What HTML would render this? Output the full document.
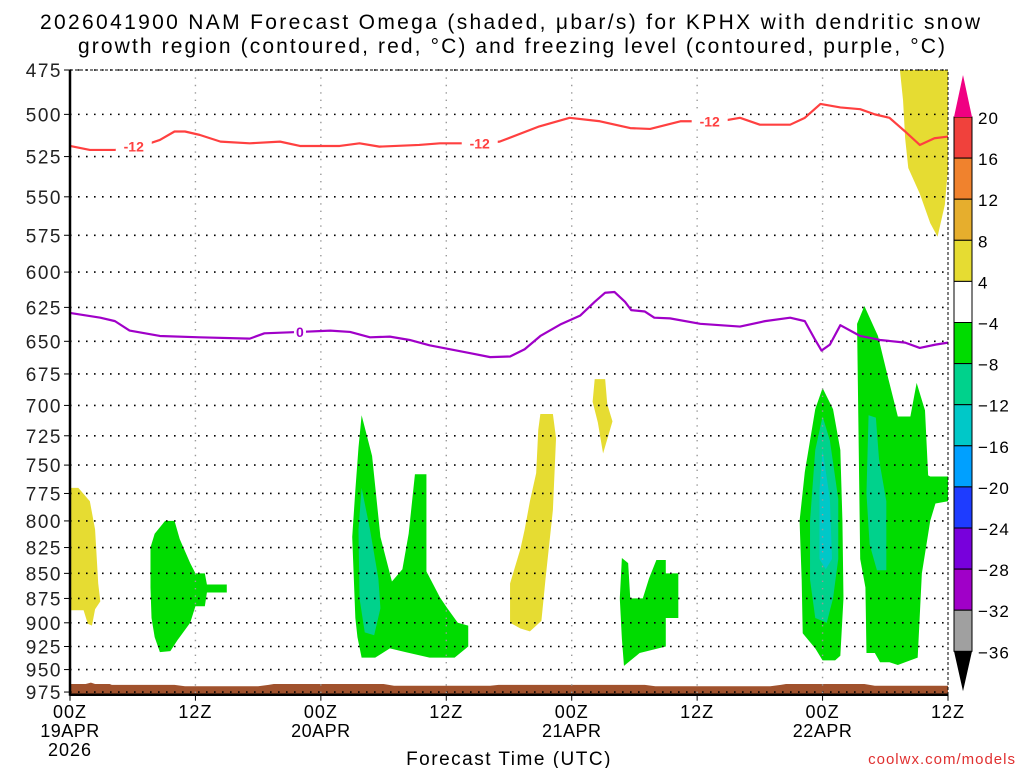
<!DOCTYPE html>
<html><head><meta charset="utf-8"><style>
html,body{margin:0;padding:0;background:#fff;}
svg{display:block;font-family:"Liberation Sans",sans-serif;}
</style></head><body>
<svg id="chart" width="1024" height="768" viewBox="0 0 1024 768" xmlns="http://www.w3.org/2000/svg">
<text x="40" y="29" font-size="21" textLength="940" lengthAdjust="spacing">2026041900 NAM Forecast Omega (shaded, μbar/s) for KPHX with dendritic snow</text>
<text x="78" y="53" font-size="21" textLength="867" lengthAdjust="spacing">growth region (contoured, red, °C) and freezing level (contoured, purple, °C)</text>
<g id="plot"></g>
<text x="509" y="765" font-size="19" text-anchor="middle" letter-spacing="1.5">Forecast Time (UTC)</text>
<text x="1016" y="764" font-size="15" fill="#e03030" text-anchor="end" letter-spacing="1">coolwx.com/models</text>
</svg>
<script>
const pLevels=[475,500,525,550,575,600,625,650,675,700,725,750,775,800,825,850,875,900,925,950,975];
const timeTicks=[0,12,24,36,48,60,72,84];
const timeLabels=["00Z","12Z","00Z","12Z","00Z","12Z","00Z","12Z"];
const dateLabels=["19APR","","20APR","","21APR","","22APR",""];
const cbLevels=[20,16,12,8,4,-4,-8,-12,-16,-20,-24,-28,-32,-36];
const cbColors=["#f0413c","#f0822d","#e6ae2d","#e6dc32","#ffffff","#00dc00","#00d28c","#00c8c8","#00a0ff","#1e3cff","#7800dc","#a000c8","#a0a0a0"];
// -12C isotherm [hour, hPa]
const redHours=[0,1.9,4.3,6.7,8.6,10,11,12.4,14.4,17.2,20.1,22,25.8,27.7,29.6,33.4,35.4,39.2,41.1,44.9,47.8,50.7,53.6,55.5,58.4,60.3,62.2,64.1,66,68.9,70.3,71.8,73.7,75.6,77,78.4,79.9,81.3,82.7,84];
const redP=[518.6,521,521,519,515,510,510,512,516,517,516,518.6,518.6,517,519,518,517,517,516,507,502,504,508,508.5,504,504,504,502,506,506,502,494,496,497,500,502,510,518,514,513];
// 0C freezing level
const purHours=[0,2.9,4.3,5.7,8.6,12.4,17.2,18.6,22,24.9,26.8,28.7,30.6,32.5,34.4,38.3,40.2,42.1,43.5,45,46.9,48.8,50.2,51.2,52.1,53.1,53.7,55,55.9,57.4,60.3,64.1,66.5,68.9,70.3,71.3,71.9,72.7,73.7,75.6,77.5,79.9,81.3,82.8,84];
const purP=[629,632.5,635,642,646,647,648,644,643,642,643,647,646.5,649,653,659,662,661.5,656,646,637.5,631,621,614.5,614,621,627,628,632.5,633,637,639,635,632.5,635,649,657,652.5,638,646,649,651,655,652.5,651];
// surface (ground) top pressure by hour
const gndHours=[0,1.5,2,2.4,3.8,4,10,11,18,19,19.5,30,31,40.2,41,55,56,67,68,68.5,76,77,84];
const gndP=[966,966,964.5,966,966,967,967,968.5,968.5,967,966,966,968,968,967,967,968.5,968.5,967,966,966,968,968];
// omega shaded regions: [hour,hPa] vertices, with value class
const omegaLevel=["yellow","green","yellow","green","teal","yellow","yellow","green","green","teal","cyan","green","teal"];
const omegaShapes=[
 [[79.4,475],[84,475],[84,532],[83.7,555],[83,576],[82.3,567],[81.3,548],[80.2,532],[79.9,514],[79.7,492]],
 [[7.7,825],[8.1,812],[9.1,800],[10,800],[10.5,817],[11.5,840],[12,850],[12.9,850],[13.1,861],[15,861],[15,869],[13.1,869],[12.9,883],[12,883],[11.5,900],[10.3,918],[9.6,930],[8.6,931],[8.1,915],[7.8,895],[7.7,864]],
 [[0,770],[0.8,770],[1.9,782],[2.4,808],[2.7,860],[2.9,878],[2.4,886],[2.1,903],[1.7,901],[1.3,887],[0,887]],
 [[27.9,708],[28.9,742],[29.7,815],[30.8,858],[31.8,846],[32.4,812],[33,758],[34.1,758],[34.1,848],[35.4,874],[36.1,885],[37.1,900],[38.1,903],[38.1,925],[36.8,937],[34.4,937],[32.1,931],[30.6,927],[29.2,937],[27.9,937],[27.5,915],[27.3,895],[27,815],[27.3,772],[27.6,735]],
 [[27.9,770],[28.7,808],[29.5,855],[29.7,885],[29.1,913],[28.2,910],[27.7,875],[27.6,808]],
 [[45,707],[46.2,707],[46.5,727],[46.2,790],[45.5,855],[45.1,898],[44,909],[43.1,906],[42.1,900],[42.1,860],[43.1,826],[43.5,808],[44,782],[44.6,757],[44.8,720]],
 [[50.2,679],[51.2,679],[51.4,699],[51.9,713],[51,740],[50.5,714],[50,697]],
 [[52.8,835],[53.4,840],[53.6,875],[54.8,875],[55.4,855],[56.1,837],[57,837],[57,850],[58.2,850],[58.2,895],[57,895],[57,925],[54.5,932],[53,946],[52.8,917],[52.6,875]],
 [[72,686],[73,703],[73.7,737],[73.9,800],[74,875],[73.7,935],[73.2,940],[72,940],[71.3,927],[70.1,911],[70,856],[69.8,800],[70.3,756],[71.3,703]],
 [[72,709],[72.7,729],[73.5,780],[73.5,836],[73,875],[72.4,900],[71.3,895],[70.8,856],[70.8,800],[71.3,737]],
 [[72,737],[72.7,780],[72.9,836],[72.3,846],[71.7,836],[71.7,772]],
 [[76,624],[77.3,646],[78.3,679],[79.2,709],[80.4,709],[81,682],[81.8,704],[82.1,759],[82.3,760],[84,760],[84,782],[82.8,784],[82.3,800],[81.5,850],[81.1,937],[79.9,942],[79.2,945],[78.4,942],[77.5,942],[77,932],[76.2,932],[76.1,864],[75.6,836],[75.3,637]],
 [[76.4,708],[77.1,710],[77.4,745],[78.1,782],[78.1,847],[77.2,847],[76.5,822],[76.2,775]]
];
const redLabels=[[6.1,519],[39.2,517],[61.2,504]];
const purLabels=[[22,643]];
const levelColor={yellow:"#e6dc32",green:"#00dc00",teal:"#00d28c",cyan:"#00c8c8"};

const NS="http://www.w3.org/2000/svg";
const X0=70,X1=948,Y0=70,PBOT=978;
const X=h=>X0+h*(X1-X0)/84;
const Y=p=>Y0+865*Math.log(p/475);
const g=document.getElementById('plot');
function mk(tag,attrs,parent){const e=document.createElementNS(NS,tag);for(const k in attrs)e.setAttribute(k,attrs[k]);(parent||g).appendChild(e);return e;}

omegaShapes.forEach((s,i)=>{
 const e=mk('polygon',{points:s.map(v=>X(v[0])+','+Y(v[1])).join(' '),fill:levelColor[omegaLevel[i]]});
 
 
});
{
 let pts=gndHours.map((h,i)=>X(h)+','+Y(gndP[i]));
 pts.push(X(84)+','+Y(PBOT),X(0)+','+Y(PBOT));
 const e=mk('polygon',{points:pts.join(' '),fill:"#a0522d"});
 
 
}
pLevels.forEach(p=>{
 const e=mk('line',{x1:X0,x2:X1,y1:Y(p),y2:Y(p),stroke:"#000","stroke-width":1.6,"stroke-dasharray":"1.6 6.4"});
 
 
 const t=mk('text',{x:62,y:Y(p)+7,"font-size":19,"text-anchor":"end",fill:"#222","letter-spacing":"1.5"});
 t.textContent=p;
 
 
 const tk=mk('line',{x1:64,x2:70,y1:Y(p),y2:Y(p),stroke:"#000","stroke-width":1});
 
 
});
timeTicks.forEach((h,i)=>{
 if(i>0&&i<timeTicks.length-1){
  const e=mk('line',{x1:X(h),x2:X(h),y1:Y0,y2:Y(PBOT),stroke:"#999","stroke-width":1.4,"stroke-dasharray":"1.4 6"});
  
  
 }
 const tk=mk('line',{x1:X(h),x2:X(h),y1:Y(PBOT),y2:Y(PBOT)+6,stroke:"#000","stroke-width":1});
 
 
 const t=mk('text',{x:X(h),y:718,"font-size":18,"text-anchor":"middle","letter-spacing":"1"});
 t.textContent=timeLabels[i];
 
 
 if(dateLabels[i]){
  const d=mk('text',{x:X(h),y:737,"font-size":18,"text-anchor":"middle","letter-spacing":"0.5"});
  d.textContent=dateLabels[i];
  
  
 }
});
{const t=mk('text',{x:X(0),y:756,"font-size":18,"text-anchor":"middle","letter-spacing":"1"});t.textContent="2026";

}
function line(hs,ps,color,name){
 const e=mk('polyline',{points:hs.map((h,i)=>X(h)+','+Y(ps[i])).join(' '),fill:"none",stroke:color,"stroke-width":2.2,"stroke-linejoin":"round"});
 
 
}
line(redHours,redP,"#ff4040","dgz-minus12-contour");
line(purHours,purP,"#a000c8","freezing-level-contour");
function clabel(arr,txt,color,name){
 arr.forEach(v=>{
  const r=mk('rect',{x:X(v[0])-(txt.length*6),y:Y(v[1])-8,width:txt.length*12,height:16,fill:"#fff"});
  
  
  const t=mk('text',{x:X(v[0]),y:Y(v[1])+5,"font-size":14,"font-weight":"bold","text-anchor":"middle",fill:color});
  t.textContent=txt;
  
  
 });
}
clabel(redLabels,"-12","#ff4040","red-contour-label");
clabel(purLabels,"0","#a000c8","purple-contour-label");
{
 const f=mk('rect',{x:X0,y:Y0,width:X1-X0,height:Y(PBOT)-Y0,fill:"none",stroke:"#000","stroke-width":1,"stroke-dasharray":"3 2"});
 
 
 const l=mk('line',{x1:X0,x2:X0,y1:Y0,y2:Y(PBOT)+1,stroke:"#000","stroke-width":2.5});
 
 
 const b=mk('line',{x1:X0,x2:X1,y1:Y(PBOT),y2:Y(PBOT),stroke:"#000","stroke-width":2.5});
 
 
}
const CBX=954,CBW=18,CBY0=117,CBH=41.1;
cbColors.forEach((c,i)=>{
 const r=mk('rect',{x:CBX,y:CBY0+i*CBH,width:CBW,height:CBH,fill:c,stroke:"#000","stroke-width":1});
 
 
});
{
 const yb=CBY0+cbColors.length*CBH;
 const t=mk('polygon',{points:`${CBX},${CBY0} ${CBX+CBW},${CBY0} ${CBX+CBW/2},${CBY0-42}`,fill:"#f00082"});
 
 
 const b=mk('polygon',{points:`${CBX},${yb} ${CBX+CBW},${yb} ${CBX+CBW/2},${yb+40}`,fill:"#000"});
 
 
}
cbLevels.forEach((v,i)=>{
 const t=mk('text',{x:978,y:CBY0+i*CBH+7,"font-size":17,"letter-spacing":"1"});
 t.textContent=v<0?'−'+(-v):String(v);
 
 
});
</script>
</body></html>
